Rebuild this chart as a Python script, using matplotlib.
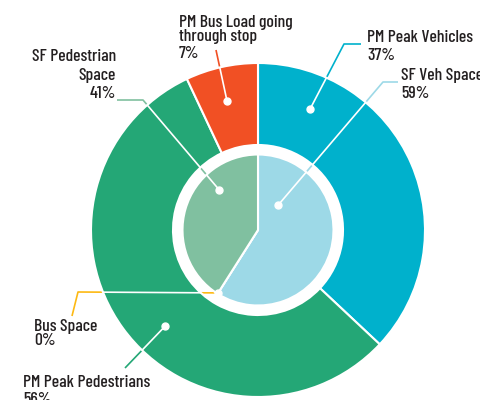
import numpy as np
import matplotlib.pyplot as plt
from matplotlib import font_manager as fm

# outer ring: PM peak demand
outer_labels = ["PM Peak Vehicles", "PM Peak Pedestrians", "PM Bus Load going\nthrough stop"]
outer_values = [37, 56, 7]
outer_colors = ["#00b1cc", "#24a776", "#f15024"]

# inner pie: street space
inner_labels = ["SF Veh Space", "Bus Space", "SF Pedestrian\nSpace"]
inner_values = [59, 0, 41]
inner_colors = ["#9dd9e7", "#fdb913", "#80c0a0"]

# pick a condensed face if one is installed
font = "DejaVu Sans"
for cand in ["Barlow Condensed", "Roboto Condensed", "Archivo Narrow",
             "PT Sans Narrow", "Liberation Sans Narrow"]:
    try:
        fm.findfont(fm.FontProperties(family=cand), fallback_to_default=False)
        font = cand
        break
    except ValueError:
        pass
weight = "medium"

W, H = 481, 400
fig = plt.figure(figsize=(4.81, 4.0), dpi=100)
ax = fig.add_axes([0, 0, 1, 1])

# size the font so "PM Peak Vehicles" is about 106 px wide, like the reference
probe = fig.text(0, 0, "PM Peak Vehicles", fontsize=10, family=font, fontweight=weight)
wpx = probe.get_window_extent(fig.canvas.get_renderer()).width
probe.remove()
fs = min(10 * 106 / wpx, 15)

cx, cy = 258, 170
r_out, ring_w, r_in = 167, 82, 75.5

outer_w, _ = ax.pie(outer_values, colors=outer_colors, radius=r_out, center=(cx, cy),
                    startangle=90, counterclock=False,
                    wedgeprops=dict(width=ring_w, edgecolor="white", linewidth=1.5))
inner_w, _ = ax.pie(inner_values, colors=inner_colors, radius=r_in, center=(cx, cy),
                    startangle=90, counterclock=False,
                    wedgeprops=dict(edgecolor="white", linewidth=1.5))

ax.set_xlim(0, W)
ax.set_ylim(0, H)
ax.set_aspect("equal")
ax.axis("off")


def polar(ang, r):
    a = np.radians(ang)
    return cx + r * np.cos(a), cy + r * np.sin(a)


text_col = "#231f20"

# (label, value, colour, dot, leader points (px from top-left), text x, align, baselines)
bus_ang = inner_w[1].theta1
labels = [
    (outer_labels[0], outer_values[0], outer_colors[0], polar(66.7, 132),
     [(344, 44), (361, 44)], 367, "left", [42, 60]),
    (outer_labels[2], outer_values[2], outer_colors[2], polar(103.5, 133),
     [(216, 50)], 179, "left", [27, 41, 58]),
    (outer_labels[1], outer_values[1], outer_colors[1], polar(226, 134),
     [(125, 368)], 23, "left", [387, 404]),
    (inner_labels[0], inner_values[0], inner_colors[0], polar(51, 32),
     [(383, 82), (398, 82)], 401, "left", [80, 98]),
    (inner_labels[2], inner_values[2], inner_colors[2], polar(134, 56),
     [(143, 100), (117, 100)], 116, "right", [61, 80, 98]),
    (inner_labels[1], inner_values[1], inner_colors[1], polar(bus_ang, r_in - 1),
     [(78, 292), (72, 316)], 34, "left", [331, 345]),
]

for name, val, col, dot, pts, tx, ha, bases in labels:
    xs = [dot[0]] + [p[0] for p in pts]
    ys = [dot[1]] + [H - p[1] for p in pts]
    ax.plot(xs, ys, color=col, lw=1.2, zorder=0.5, solid_capstyle="butt")
    for w in list(outer_w) + list(inner_w):
        ln, = ax.plot(xs, ys, color="white", lw=1.2, zorder=3)
        ln.set_clip_path(w)
    ax.plot(dot[0], dot[1], "o", color="white", ms=5, zorder=4)
    lines = name.split("\n") + [f"{val}%"]
    for line, b in zip(lines, bases):
        ax.text(tx, H - b, line, ha=ha, va="baseline", fontsize=fs,
                family=font, fontweight=weight, color=text_col)

fig.savefig("out.png", dpi=100)
